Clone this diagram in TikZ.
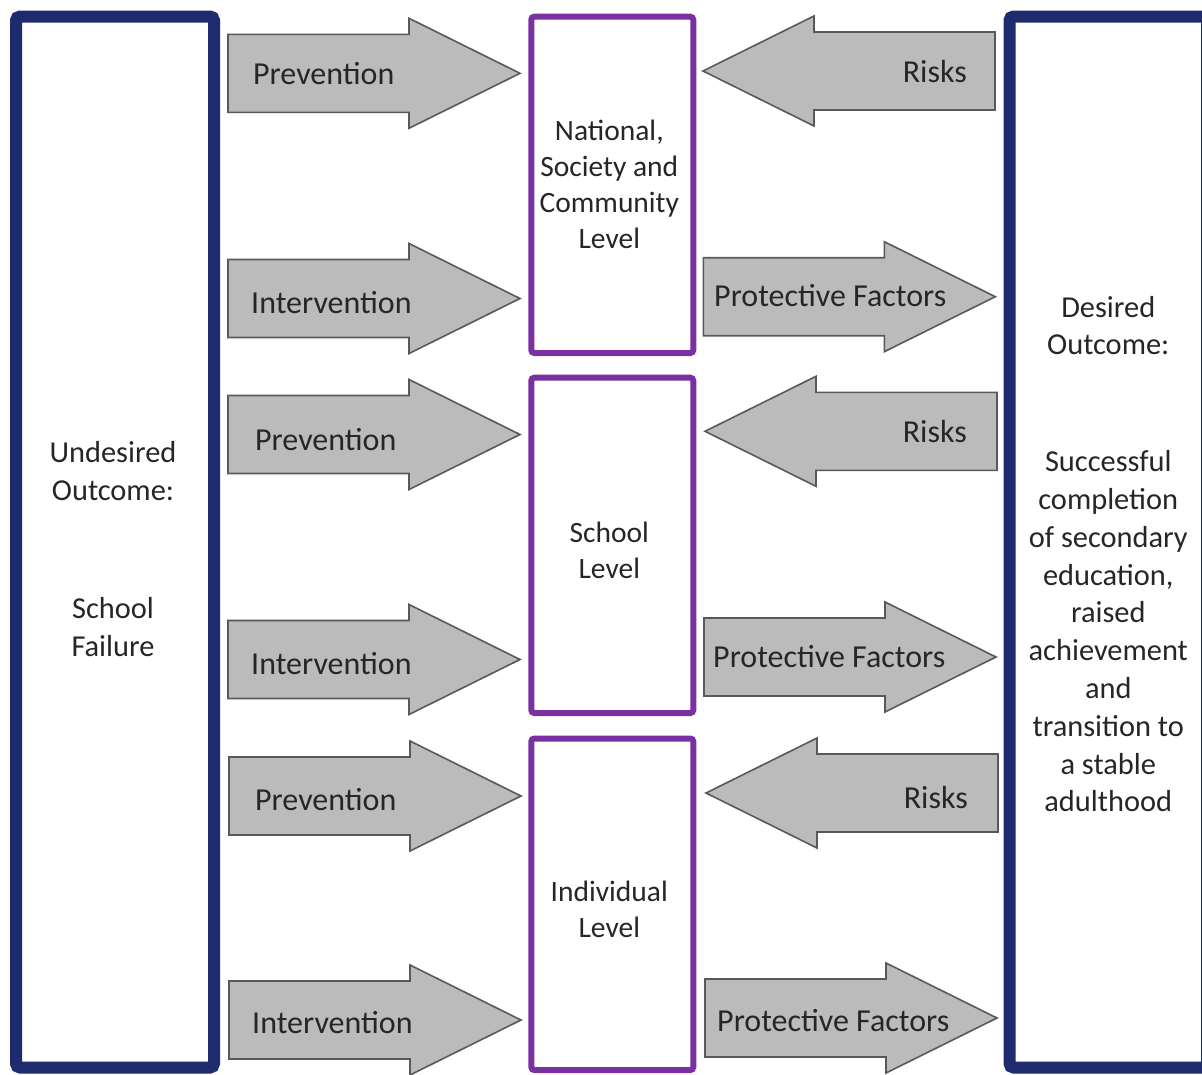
\documentclass[tikz,border=0pt]{standalone}
\usepackage{fontspec}
\setmainfont{Carlito}
\usetikzlibrary{positioning}
\definecolor{cNavy}{RGB}{31,43,111}
\definecolor{cPurple}{RGB}{121,48,160}
\definecolor{cArrow}{RGB}{187,187,187}
\definecolor{cArrowLine}{RGB}{89,89,89}
\definecolor{cText}{RGB}{38,38,38}
\tikzset{
  outcomebox/.style={rectangle, rounded corners=4pt, draw=cNavy,
                     line width=12pt, fill=white, minimum width=198pt,
                     minimum height=1051pt},
  levelbox/.style={rectangle, rounded corners=3pt, draw=cPurple,
                   line width=6pt, fill=white, minimum width=162pt},
  leveltext/.style={align=center, text=cText,
                    font=\fontsize{29.5}{36}\selectfont},
  outcometext/.style={align=center, text=cText,
                      font=\fontsize{30.4}{37.8}\selectfont},
  arrowtext/.style={text=cText, inner sep=0pt,
                    font=\fontsize{32}{38}\selectfont},
  blockarrow/.style={fill=cArrow, draw=cArrowLine, line width=1.6pt}
}
% block arrow pointing right: tail x, centre y
\newcommand{\rightblock}[2]{%
  \draw[blockarrow] (#1,{#2-39}) -- ++(181,0) -- ++(0,-16) -- ({#1+292},#2)
    -- ({#1+181},{#2+55}) -- ++(0,-16) -- (#1,{#2+39}) -- cycle;}
% block arrow pointing left: tip x, centre y
\newcommand{\leftblock}[2]{%
  \draw[blockarrow] (#1,#2) -- ({#1+111},{#2-55}) -- ++(0,16)
    -- ({#1+292},{#2-39}) -- ++(0,78) -- ({#1+111},{#2+39}) -- ++(0,16) -- cycle;}

\begin{document}
\begin{tikzpicture}[x=1pt, y=-1pt]

  \useasboundingbox (0,0) rectangle (1202,1074);

  % Outcome columns
  \node[outcomebox] (undesiredbox) at (115,542) {};
  \node[outcomebox, minimum width=197.5pt] (desiredbox) at (1108.25,542) {};

  \node[outcometext] (undesired) at ([xshift=-2pt, yshift=-7pt]undesiredbox.center)
      {Undesired\\Outcome:\\[80pt]School\\Failure};
  \node[outcometext] (desired) at ([yshift=-12pt]desiredbox.center)
      {Desired\\Outcome:\\[79pt]Successful\\completion\\of secondary\\education,\\raised\\achievement\\and\\transition to\\a stable\\adulthood};

  % Levels
  \node[levelbox, minimum height=336.3pt] (national) at (612.3,184.85) {};
  \node[levelbox, minimum height=335.3pt] (school) at (612.3,545.35) {};
  \node[levelbox, minimum height=331.5pt] (individual) at (612.3,904.25) {};

  \node[leveltext] (nationaltext) at ([xshift=-3pt]national.center)
      {National,\\Society and\\Community\\Level};
  \node[leveltext] (schooltext) at ([xshift=-3pt, yshift=-5pt]school.center)
      {School\\Level};
  \node[leveltext] (individualtext) at ([xshift=-3pt, yshift=-5pt]individual.center)
      {Individual\\Level};

  % Arrows towards the levels
  \rightblock{228}{73.3}
  \node[arrowtext, anchor=west] (prev1) at (253,73.5) {Prevention};
  \rightblock{228}{298.5}
  \node[arrowtext, anchor=west] (interv1) at (251,302.5) {Intervention};
  \rightblock{228}{434.5}
  \node[arrowtext, anchor=west] (prev2) at (255,439.5) {Prevention};
  \rightblock{228}{659.5}
  \node[arrowtext, anchor=west] (interv2) at (251,664) {Intervention};
  \rightblock{229}{796}
  \node[arrowtext, anchor=west] (prev3) at (255,800) {Prevention};
  \rightblock{229}{1020}
  \node[arrowtext, anchor=west] (interv3) at (252,1023) {Intervention};

  % Risks and protective factors
  \leftblock{703}{71}
  \node[arrowtext, anchor=east] (risks1) at (967,71.5) {Risks};
  \rightblock{703.3}{296.7}
  \node[arrowtext, anchor=west] (prot1) at (714,295.5) {Protective Factors};
  \leftblock{705}{431.3}
  \node[arrowtext, anchor=east] (risks2) at (967,431.7) {Risks};
  \rightblock{704}{657}
  \node[arrowtext, anchor=west] (prot2) at (713,657) {Protective Factors};
  \leftblock{706}{793}
  \node[arrowtext, anchor=east] (risks3) at (968,797) {Risks};
  \rightblock{705}{1018}
  \node[arrowtext, anchor=west] (prot3) at (717,1021) {Protective Factors};

\end{tikzpicture}
\end{document}
